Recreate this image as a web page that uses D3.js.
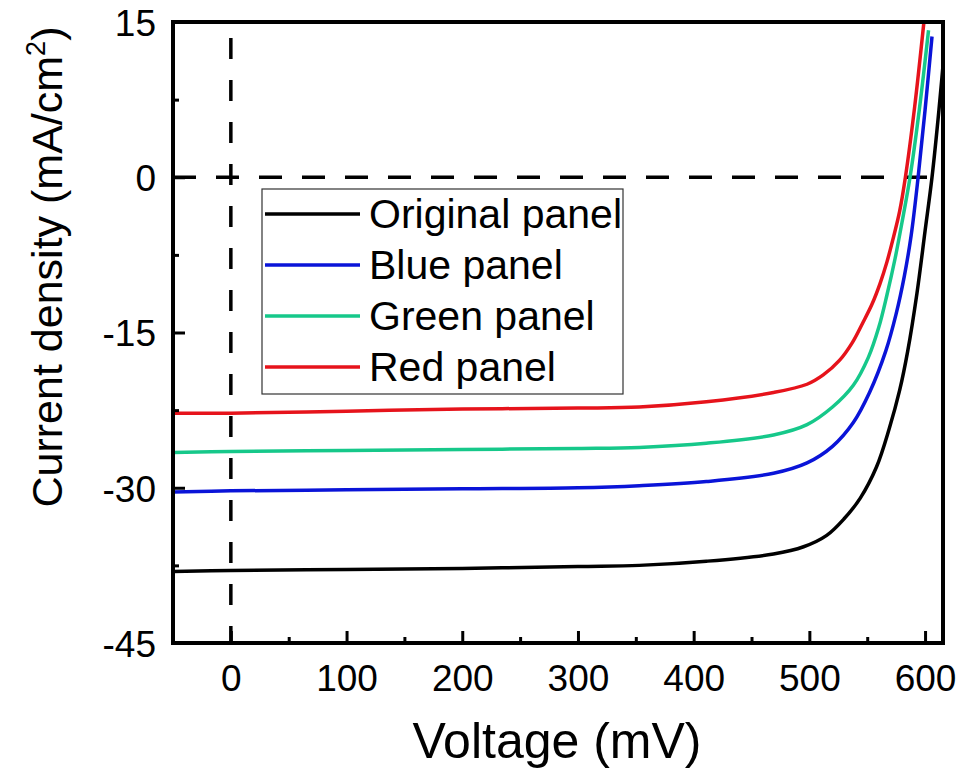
<!DOCTYPE html>
<html><head><meta charset="utf-8">
<script src="https://cdn.jsdelivr.net/npm/d3@7"></script>
<style>html,body{margin:0;padding:0;background:#fff;}svg{display:block;}</style>
</head><body>
<svg id="chart" width="961" height="778"></svg>
<script>
// ---- data ----
const seriesNames = ["Original panel", "Blue panel", "Green panel", "Red panel"];
const seriesColors = ["#000000", "#0a14d8", "#16c88a", "#e6131b"];

const originalV = [-50, 0, 100, 200, 300, 353, 411, 469, 495, 515, 530, 544, 558, 569, 578, 585, 593, 600, 606, 612, 618];
const originalJ = [-38.1, -38.0, -37.9, -37.8, -37.6, -37.5, -37.1, -36.4, -35.7, -34.6, -33.0, -31.0, -28.0, -24.3, -20.6, -16.8, -11.2, -5.2, 0, 6.5, 14];

const blueV = [-50, 0, 100, 200, 300, 353, 411, 469, 498, 520, 538, 552, 566, 575, 582, 588, 594, 600, 606];
const blueJ = [-30.4, -30.3, -30.2, -30.1, -30.0, -29.8, -29.4, -28.6, -27.6, -26.0, -23.7, -20.8, -16.8, -13.2, -9.6, -5.6, 0, 6.5, 13.6];

const greenV = [-50, 0, 100, 200, 300, 353, 411, 469, 498, 520, 538, 551, 560, 567, 574, 580, 587, 595, 603];
const greenJ = [-26.6, -26.5, -26.4, -26.3, -26.2, -26.1, -25.7, -24.9, -23.9, -22.2, -20.1, -17.4, -14.5, -11.4, -7.9, -4.4, 0, 6.5, 14.2];

const redV = [-50, 0, 100, 200, 300, 353, 411, 469, 498, 512, 526, 537, 546, 554, 561, 567, 572, 578, 583, 591, 599];
const redJ = [-22.8, -22.8, -22.6, -22.4, -22.3, -22.2, -21.7, -20.8, -20.0, -19.1, -17.7, -16.0, -14.1, -12.3, -10.3, -8.2, -6.1, -3.3, 0, 6.8, 15];

const xTickValues = [0, 100, 200, 300, 400, 500, 600];
const xMinorTicks = [-50, 50, 150, 250, 350, 450, 550];
const yTickValues = [15, 0, -15, -30, -45];
const yMinorTicks = [7.5, -7.5, -22.5, -37.5];
const xTitle = "Voltage (mV)";
const yTitleMain = "Current density (mA/cm";
const yTitleSup = "2";
const yTitleEnd = ")";

// ---- build ----
const seriesV = [originalV, blueV, greenV, redV];
const seriesJ = [originalJ, blueJ, greenJ, redJ];
const series = seriesNames.map((n, i) => ({
  name: n, color: seriesColors[i],
  pts: seriesV[i].map((v, k) => ({v: v, j: seriesJ[i][k]}))
}));

const svg = d3.select("#chart");
const FONT = "'Liberation Sans', Arial, sans-serif";
const L = 173, R = 943, T = 22, B = 643;
const x = d3.scaleLinear().domain([-50, 615.5]).range([L, R]);
const y = d3.scaleLinear().domain([-45, 15]).range([B, T]);

svg.append("defs").append("clipPath").attr("id", "clip")
  .append("rect").attr("x", L).attr("y", T).attr("width", R - L).attr("height", B - T);

// dashed zero lines
svg.append("line").attr("x1", x(0)).attr("x2", x(0)).attr("y1", T).attr("y2", B)
  .attr("stroke", "#000").attr("stroke-width", 3.5).attr("stroke-dasharray", "21,21")
  .attr("stroke-dashoffset", -16);
svg.append("line").attr("x1", L).attr("x2", R).attr("y1", y(0)).attr("y2", y(0))
  .attr("stroke", "#000").attr("stroke-width", 3.5).attr("stroke-dasharray", "23,20")
  .attr("stroke-dashoffset", 0);

// curves
const line = d3.line().x(d => x(d.v)).y(d => y(d.j)).curve(d3.curveCatmullRom.alpha(0.5));
const gc = svg.append("g").attr("clip-path", "url(#clip)");
series.slice().reverse().forEach(s => {
  gc.append("path").attr("d", line(s.pts)).attr("fill", "none")
    .attr("stroke", s.color).attr("stroke-width", 3.5).attr("stroke-linejoin", "round");
});

// axes
const fmt = d => String(d);
const xAxis = d3.axisBottom(x).tickValues(xTickValues).tickFormat(fmt).tickSizeInner(-12).tickSizeOuter(0).tickPadding(22);
const gx = svg.append("g").attr("transform", `translate(0,${B})`).call(xAxis);
const xAxisMinor = d3.axisBottom(x).tickValues(xMinorTicks).tickSizeInner(-6).tickSizeOuter(0).tickFormat("");
const gxm = svg.append("g").attr("transform", `translate(0,${B})`).call(xAxisMinor);
const yAxis = d3.axisLeft(y).tickValues(yTickValues).tickFormat(fmt).tickSizeInner(-12).tickSizeOuter(0).tickPadding(17);
const gy = svg.append("g").attr("transform", `translate(${L},0)`).call(yAxis);
const yAxisMinor = d3.axisLeft(y).tickValues(yMinorTicks).tickSizeInner(-6).tickSizeOuter(0).tickFormat("");
const gym = svg.append("g").attr("transform", `translate(${L},0)`).call(yAxisMinor);
[gx, gxm, gy, gym].forEach(g => {
  g.select(".domain").remove();
  g.selectAll(".tick line").attr("stroke", "#000").attr("stroke-width", 3);
  g.selectAll(".tick text").attr("fill", "#000").style("font-family", FONT).style("font-size", "37px");
});
gx.selectAll(".tick text").attr("dy", "0.71em");
gy.selectAll(".tick text").attr("dy", "0.36em");

// frame
svg.append("rect").attr("x", L).attr("y", T).attr("width", R - L).attr("height", B - T)
  .attr("fill", "none").attr("stroke", "#000").attr("stroke-width", 4);

// axis titles
svg.append("text").attr("x", 557).attr("y", 758).attr("text-anchor", "middle")
  .style("font-family", FONT).style("font-size", "50px").attr("fill", "#000").text(xTitle);
const yt = svg.append("text").attr("transform", "translate(62,267) rotate(-90)")
  .attr("text-anchor", "middle").style("font-family", FONT).style("font-size", "43px").attr("fill", "#000");
yt.append("tspan").text(yTitleMain);
yt.append("tspan").attr("dy", -17).style("font-size", "27px").text(yTitleSup);
yt.append("tspan").attr("dy", 17).text(yTitleEnd);

// legend
const lg = svg.append("g");
lg.append("rect").attr("x", 262).attr("y", 189).attr("width", 361).attr("height", 205)
  .attr("fill", "#fff").attr("stroke", "#333").attr("stroke-width", 1.2);
series.forEach((s, i) => {
  const cy = 214 + i * 51;
  lg.append("line").attr("x1", 265).attr("x2", 360).attr("y1", cy).attr("y2", cy)
    .attr("stroke", s.color).attr("stroke-width", 3.5);
  lg.append("text").attr("x", 369).attr("y", cy + 14).style("font-family", FONT)
    .style("font-size", "41px").attr("fill", "#000").text(s.name);
});
</script>
</body></html>
